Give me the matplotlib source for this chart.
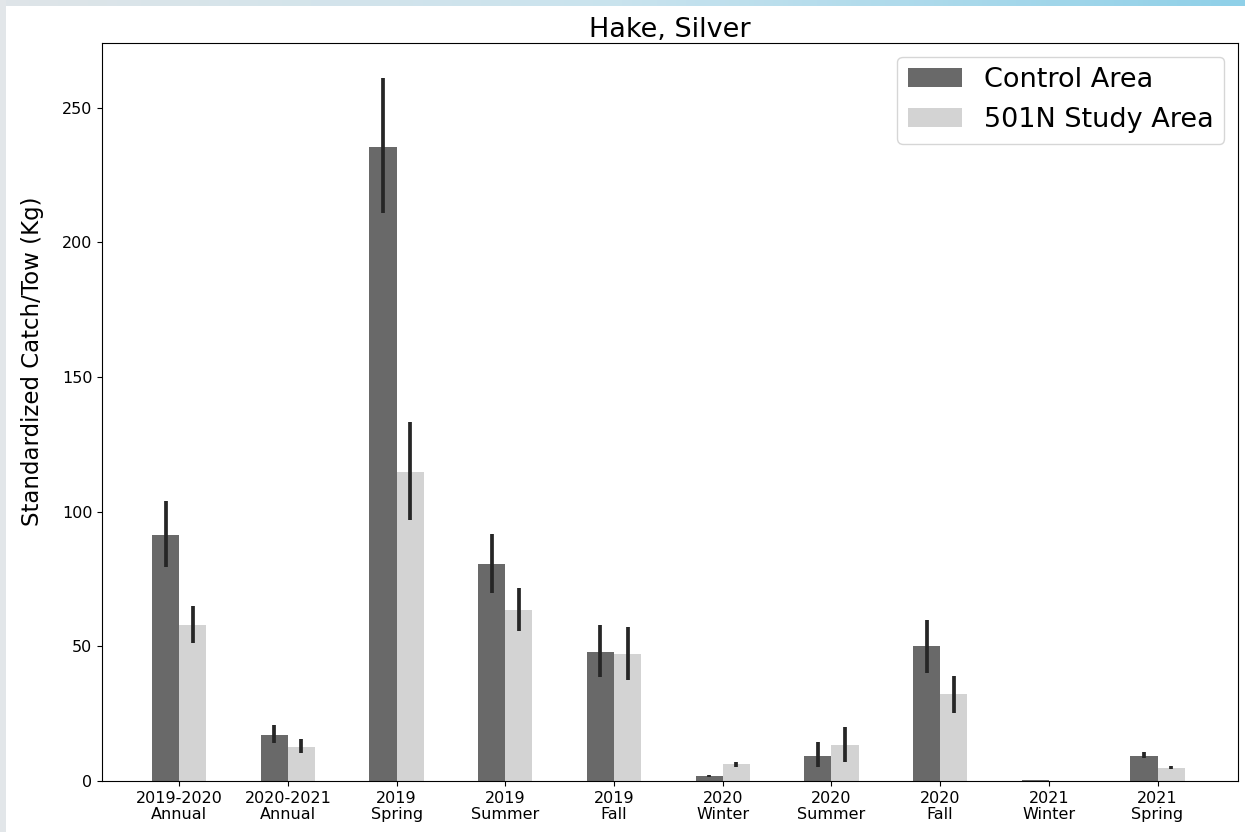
import numpy as np
import matplotlib.pyplot as plt
from matplotlib.colors import LinearSegmentedColormap

# Mean catch per tow and error-bar ends for each survey period
periods = ['2019-2020\nAnnual', '2020-2021\nAnnual', '2019\nSpring', '2019\nSummer',
           '2019\nFall', '2020\nWinter', '2020\nSummer', '2020\nFall',
           '2021\nWinter', '2021\nSpring']

control = [91.4, 17.1, 235.5, 80.6, 47.9, 1.9, 9.4, 50.0, 0.3, 9.4]
control_lo = [79.5, 14.1, 211.0, 69.8, 38.6, 1.5, 5.2, 40.1, 0.2, 8.5]
control_hi = [104.0, 20.8, 261.0, 91.8, 57.8, 2.4, 14.5, 59.8, 0.5, 10.8]

study = [58.0, 12.6, 114.8, 63.5, 47.2, 6.4, 13.4, 32.3, 0.0, 4.9]
study_lo = [51.3, 10.3, 96.8, 55.7, 37.5, 5.3, 7.2, 25.3, 0.0, 4.6]
study_hi = [65.0, 15.6, 133.4, 71.7, 57.2, 7.2, 20.2, 39.0, 0.0, 5.6]

x = np.arange(len(periods))
w = 0.25

fig = plt.figure(figsize=(12.45, 8.32), dpi=100)
fig.patch.set_facecolor('white')

# pale frame strip along the top and left edges
band = fig.add_axes([0, 1 - 6 / 832, 1, 6 / 832])
band.imshow(np.linspace(0, 1, 256).reshape(1, -1), aspect='auto',
            cmap=LinearSegmentedColormap.from_list('b', ['#dfe5e8', '#c9e3ee', '#8fd0e8']))
band.axis('off')
side = fig.add_axes([0, 0, 6 / 1245, 1])
side.set_facecolor('#e2e6e9')
side.set_xticks([])
side.set_yticks([])
for s in side.spines.values():
    s.set_visible(False)

ax = fig.add_axes([102 / 1245, 1 - 781 / 832, (1238 - 102) / 1245, (781 - 43) / 832])

c_err = [np.array(control) - np.array(control_lo), np.array(control_hi) - np.array(control)]
s_err = [np.array(study) - np.array(study_lo), np.array(study_hi) - np.array(study)]

ax.bar(x - w / 2, control, w, color='#696969', label='Control Area')
ax.bar(x + w / 2, study, w, color='#d3d3d3', label='501N Study Area')
ax.errorbar(x - w / 2, control, yerr=c_err, fmt='none', ecolor='#262626', elinewidth=2.7)
mask = np.array(study) > 0
ax.errorbar((x + w / 2)[mask], np.array(study)[mask], yerr=[e[mask] for e in s_err],
            fmt='none', ecolor='#262626', elinewidth=2.7)

ax.set_xlim(-0.71, 9.74)
ax.set_ylim(0, 274)
ax.set_xticks(x)
ax.set_xticklabels(periods, fontsize=11.5, linespacing=1.1)
ax.tick_params(axis='y', labelsize=11.5)
ax.set_ylabel('Standardized Catch/Tow (Kg)', fontsize=16.5)
ax.yaxis.set_label_coords(-0.051, 0.569)
ax.set_title('Hake, Silver', fontsize=19.5, pad=4)
ax.legend(loc='upper right', fontsize=19.5, borderaxespad=0.5)

plt.savefig('out.png', dpi=100)
